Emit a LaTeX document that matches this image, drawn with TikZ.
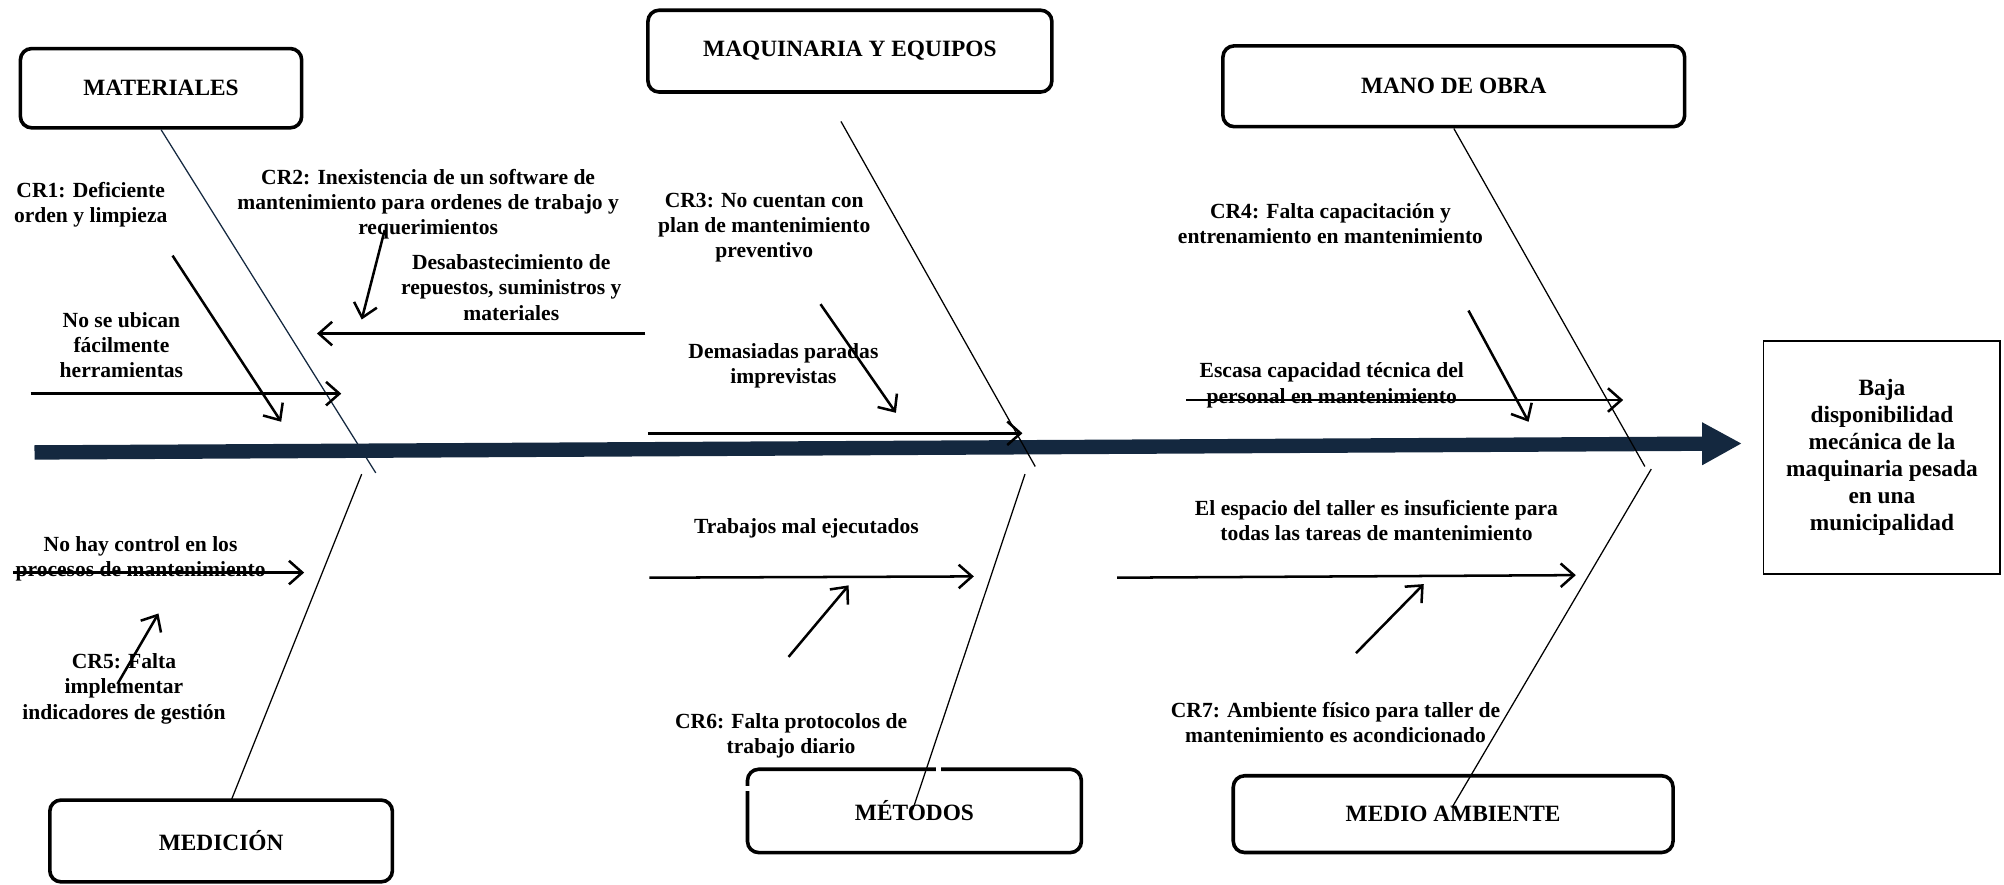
\documentclass[tikz,border=0pt]{standalone}
\usepackage{fontspec}
\setmainfont{Liberation Serif}
\usetikzlibrary{arrows.meta}
\definecolor{espinazo}{HTML}{14283F}
\begin{document}
\begin{tikzpicture}[x=0.025cm, y=-0.025cm,
  categoria/.style={draw, line width=2pt, rounded corners=0.22cm, font=\fontsize{13}{15}\selectfont\bfseries},
  causa/.style={align=center, inner sep=0pt, font=\fontsize{12}{14}\selectfont\bfseries},
  flecha/.style={line width=1.4pt, -{Straight Barb[length=2.6mm, width=4.6mm, line width=1.4pt]}},
  hueso/.style={line width=0.7pt}]
\useasboundingbox (0,0) rectangle (1568,692);
\node[categoria, minimum width=5.5cm, minimum height=1.55cm] (mat) at (126,69) {MATERIALES};
\node[categoria, minimum width=7.9cm, minimum height=1.6cm] (maq) at (665,40) {MAQUINARIA Y EQUIPOS};
\node[categoria, minimum width=9.03cm, minimum height=1.58cm] (mano) at (1137.5,67.5) {MANO DE OBRA};
\node[categoria, minimum width=6.7cm, minimum height=1.6cm] (med) at (173,658) {MEDICIÓN};
\node[categoria, minimum width=6.53cm, minimum height=1.63cm] (met) at (715.5,634.5) {MÉTODOS};
\node[categoria, minimum width=8.6cm, minimum height=1.5cm] (amb) at (1137,637) {MEDIO AMBIENTE};
\fill[white] (732,598) rectangle (736,606);
\fill[white] (580,615) rectangle (590,619);
\node[draw, line width=1pt, minimum width=4.63cm, minimum height=4.55cm, align=center, font=\fontsize{13}{15}\selectfont\bfseries] (efecto) at (1472.5,358) {Baja\\disponibilidad\\mecánica de la\\maquinaria pesada\\en una\\municipalidad};
\coordinate (cola) at (27,354);
\coordinate (cabeza) at (1363,347);
\draw[espinazo, line width=8pt, -{Triangle[length=0.78cm, width=0.78cm]}] (cola) -- (cabeza);
\coordinate (mat-b) at (294,370);
\coordinate (maq-a) at (658,95);
\coordinate (maq-b) at (810,365);
\coordinate (mano-b) at (1287,365);
\coordinate (med-a) at (283,371);
\coordinate (med-b) at (181,626);
\coordinate (met-a) at (802,371);
\coordinate (met-b) at (714,634);
\coordinate (amb-a) at (1292,367);
\coordinate (amb-b) at (1136,632);
\draw[hueso, espinazo] (mat.south) -- (mat-b);
\draw[hueso] (maq-a) -- (maq-b);
\draw[hueso] (mano.south) -- (mano-b);
\draw[hueso] (med-a) -- (med-b);
\draw[hueso] (met-a) -- (met-b);
\draw[hueso] (amb-a) -- (amb-b);
\node[causa] (cr1) at (71,160) {CR1: Deficiente\\orden y limpieza};
\node[causa] (herr) at (95,270) {No se ubican\\fácilmente\\herramientas};
\node[causa] (cr2) at (335,160) {CR2: Inexistencia de un software de\\mantenimiento para ordenes de trabajo y\\requerimientos};
\node[causa] (desab) at (400,225) {Desabastecimiento de\\repuestos, suministros y\\materiales};
\node[causa] (cr3) at (598,178) {CR3: No cuentan con\\plan de mantenimiento\\preventivo};
\node[causa] (paradas) at (613,286.5) {Demasiadas paradas\\imprevistas};
\node[causa] (cr4) at (1041,175) {CR4: Falta capacitación y\\entrenamiento en mantenimiento};
\node[causa] (escasa) at (1042,301.5) {Escasa capacidad técnica del\\personal en mantenimiento};
\node[causa] (control) at (110,437.5) {No hay control en los\\procesos de mantenimiento};
\node[causa] (cr5) at (97,539) {CR5: Falta\\implementar\\indicadores de gestión};
\node[causa] (trabajos) at (631,413) {Trabajos mal ejecutados};
\node[causa] (cr6) at (619,576) {CR6: Falta protocolos de\\trabajo diario};
\node[causa] (espacio) at (1077,407) {El espacio del taller es insuficiente para\\todas las tareas de mantenimiento};
\node[causa] (cr7) at (1045,565) {CR7: Ambiente físico para taller de\\mantenimiento es acondicionado};
\foreach \n/\a/\b in {
  herr/{24,308}/{267,308},
  cr1/{135,200}/{220,330},
  desab/{505,261}/{248,261},
  cr2/{301,180}/{283,250},
  paradas/{507,339}/{800,339},
  cr3/{642,238}/{701,323},
  escasa/{928,313}/{1270,313},
  cr4/{1149,243}/{1196,330},
  control/{10,448}/{238,448},
  cr5/{92,535}/{124,480},
  trabajos/{508,452}/{762,451},
  cr6/{617,514}/{664,458},
  espacio/{874,452}/{1233,450},
  cr7/{1061,511}/{1114,457}}{
  \coordinate (\n-ini) at (\a);
  \coordinate (\n-fin) at (\b);
  \draw[flecha] (\n-ini) -- (\n-fin);
}
\end{tikzpicture}
\end{document}
